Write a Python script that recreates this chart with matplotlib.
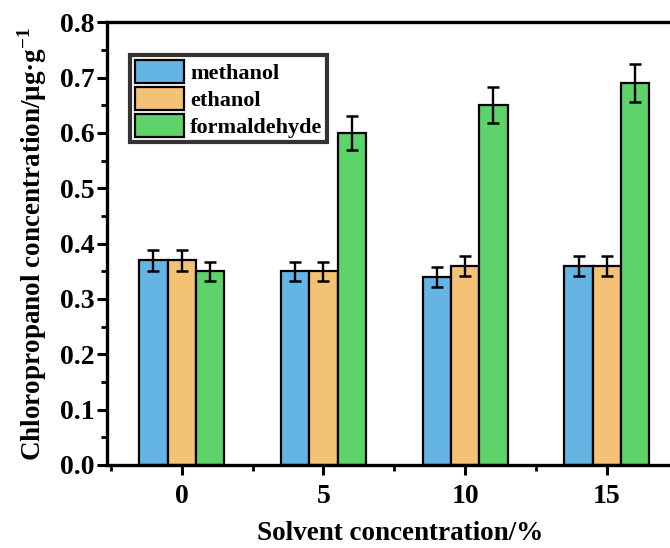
import numpy as np
import matplotlib.pyplot as plt
from matplotlib.ticker import MultipleLocator

plt.rcParams['font.family'] = 'Liberation Serif'
plt.rcParams['font.weight'] = 'bold'
plt.rcParams['mathtext.fontset'] = 'custom'
plt.rcParams['mathtext.rm'] = 'Liberation Serif:bold'
plt.rcParams['mathtext.bf'] = 'Liberation Serif:bold'

# solvent concentration groups (%)
conc = [0, 5, 10, 15]
methanol = [0.37, 0.35, 0.34, 0.36]
ethanol = [0.37, 0.35, 0.36, 0.36]
formaldehyde = [0.35, 0.60, 0.65, 0.69]
methanol_err = [0.019, 0.017, 0.018, 0.018]
ethanol_err = [0.019, 0.017, 0.018, 0.018]
formaldehyde_err = [0.017, 0.031, 0.033, 0.034]

series = [('methanol', methanol, methanol_err, '#64B4E4'),
          ('ethanol', ethanol, ethanol_err, '#F3C274'),
          ('formaldehyde', formaldehyde, formaldehyde_err, '#5DD36A')]

fig = plt.figure(figsize=(6.7, 5.48), dpi=100)
ax = fig.add_axes([0.16, 0.1515, 0.857, 0.808])

x = np.array(conc, dtype=float)
w = 1.0
for i, (name, vals, err, col) in enumerate(series):
    ax.bar(x + (i - 1) * w, vals, width=w, color=col, edgecolor='black',
           linewidth=1.6, label=name, zorder=2)
    ax.errorbar(x + (i - 1) * w, vals, yerr=err, fmt='none', ecolor='black',
                elinewidth=1.7, capsize=4, capthick=1.8, zorder=3)

ax.set_xlim(-2.63, 17.63)
ax.set_ylim(0, 0.8)
ax.set_xticks(conc)
ax.set_xticklabels([str(c) for c in conc])
ax.xaxis.set_minor_locator(MultipleLocator(2.5))
ax.yaxis.set_major_locator(MultipleLocator(0.1))
ax.yaxis.set_minor_locator(MultipleLocator(0.05))
ax.yaxis.set_major_formatter(plt.FormatStrFormatter('%.1f'))

for s in ax.spines.values():
    s.set_linewidth(2.4)
ax.tick_params(which='major', direction='out', length=7, width=2.2,
               labelsize=20)
ax.tick_params(which='minor', direction='out', length=4, width=2.0)
ax.tick_params(axis='x', which='both', top=False)
ax.tick_params(axis='y', which='both', right=False)
ax.tick_params(axis='x', which='major', pad=7)
ax.tick_params(axis='y', which='major', pad=2)

ax.set_xlabel('Solvent concentration/%', fontsize=19.5, fontweight='bold')
ax.xaxis.set_label_coords(0.51, -0.126)
ax.set_ylabel(r'Chloropropanol concentration/μg·g$^{-1}$', fontsize=19.5,
              fontweight='bold', labelpad=8)

leg = ax.legend(loc='upper left', bbox_to_anchor=(0.04, 0.925),
                fontsize=16, frameon=True, fancybox=False,
                handlelength=2.2, handleheight=1.25, handletextpad=0.3,
                labelspacing=0.12, borderpad=0.2, borderaxespad=0)
leg.get_frame().set_edgecolor('black')
leg.get_frame().set_linewidth(3)
for t in leg.get_texts():
    t.set_fontweight('bold')

fig.savefig('out.png', dpi=100)
